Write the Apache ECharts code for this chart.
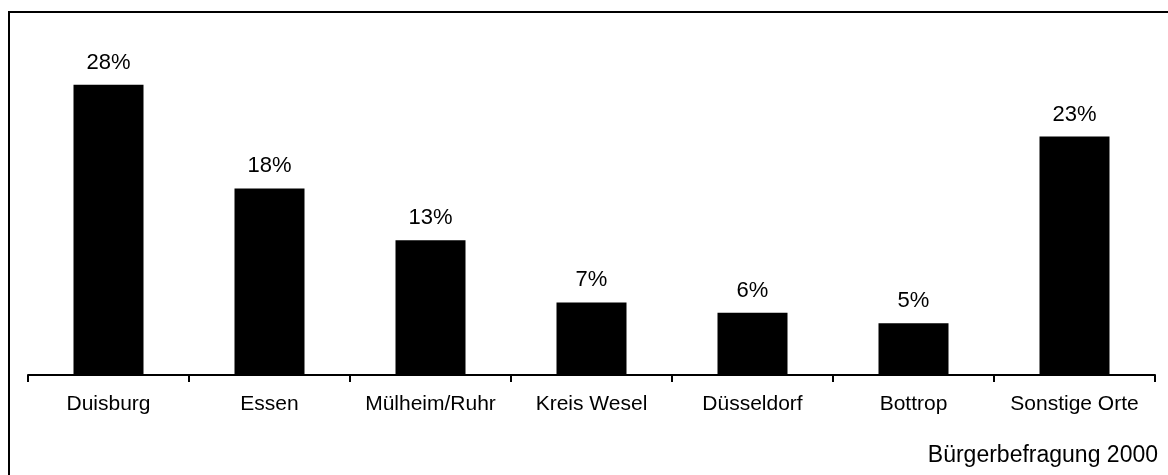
<!DOCTYPE html>
<html>
<head>
<meta charset="utf-8">
<script src="https://cdn.jsdelivr.net/npm/echarts@6/dist/echarts.min.js"></script>
<style>
html,body{margin:0;padding:0;background:#fff;}
#c{width:1168px;height:475px;}
</style>
</head>
<body>
<div id="c"></div>
<script>
const categories = ['Duisburg', 'Essen', 'Mülheim/Ruhr', 'Kreis Wesel', 'Düsseldorf', 'Bottrop', 'Sonstige Orte'];
const shares = [28, 18, 13, 7, 6, 5, 23];
const sourceNote = 'Bürgerbefragung 2000';

const FONT = '"Liberation Sans", Arial, Helvetica, sans-serif';
const chart = echarts.init(document.getElementById('c'), null, {renderer: 'canvas'});
chart.setOption({
  backgroundColor: '#fff',
  animation: false,
  grid: {left: 28, right: 13, top: 64, bottom: 100, containLabel: false},
  xAxis: {
    type: 'category',
    data: categories,
    boundaryGap: true,
    axisLine: {show: true, lineStyle: {color: '#000', width: 2}},
    axisTick: {show: true, alignWithLabel: false, length: 7, lineStyle: {color: '#000', width: 2}},
    axisLabel: {interval: 0, color: '#000', fontFamily: FONT, fontSize: 21, margin: 19}
  },
  yAxis: {
    type: 'value',
    min: 0,
    max: 30,
    show: false,
    splitLine: {show: false}
  },
  series: [{
    type: 'bar',
    data: shares,
    barWidth: 70,
    itemStyle: {color: '#000'},
    label: {
      show: true,
      position: 'top',
      distance: 11,
      formatter: '{c}%',
      color: '#000',
      fontFamily: FONT,
      fontSize: 22
    }
  }],
  graphic: [
    {type: 'rect', shape: {x: 9, y: 12, width: 1400, height: 700}, style: {fill: 'none', stroke: '#000', lineWidth: 2}, silent: true},
    {type: 'text', x: 1158, y: 456, style: {text: sourceNote, font: '23px ' + FONT, fill: '#000', textAlign: 'right', textVerticalAlign: 'middle'}}
  ]
});
</script>
</body>
</html>
